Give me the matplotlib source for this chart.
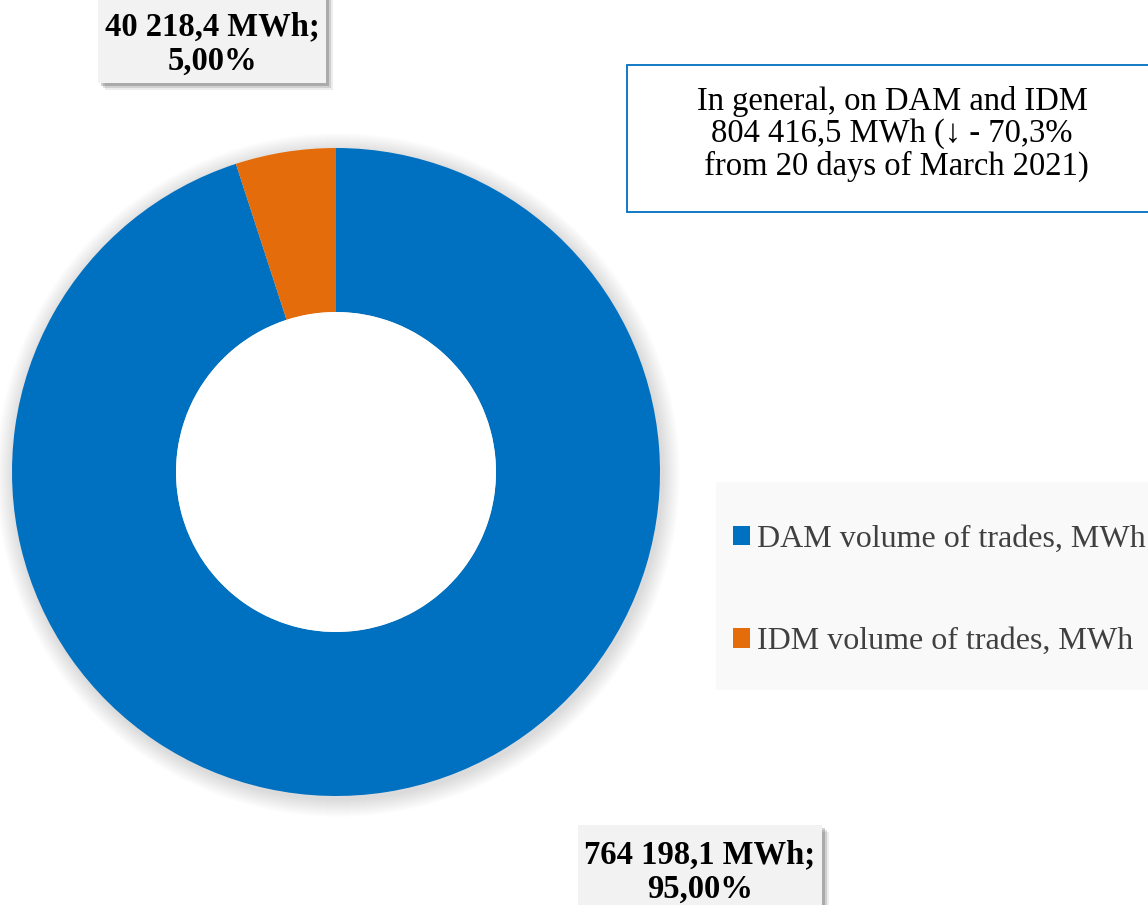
import matplotlib.pyplot as plt
from matplotlib.patches import Rectangle, Circle

plt.rcParams['font.family'] = ['Liberation Serif', 'DejaVu Serif']

# data
markets = ["DAM volume of trades, MWh", "IDM volume of trades, MWh"]
volumes = [764198.1, 40218.4]
colors = ["#0070c0", "#e46c0a"]
note = "In general, on DAM and IDM\n804 416,5 MWh (\u2193 - 70,3%\n from 20 days of March 2021)"

W, H = 1148, 905


def fmt(v):
    s = f"{v:,.1f}".replace(",", " ").replace(".", ",")
    return s


def py(y):
    # pixel row (from top) -> data y
    return H - y


fig = plt.figure(figsize=(W / 100, H / 100), dpi=100)
ax = fig.add_axes([0, 0, 1, 1])
ax.set_xlim(0, W)
ax.set_ylim(0, H)
ax.axis('off')

cx, cy, R = 336, 472, 324

# soft blurred shadow around the ring
for i in range(18):
    ax.add_patch(Circle((cx + 2, py(cy) - 3), R + 1 + i, color='#000000', alpha=0.006, lw=0, zorder=0))

wedges, _ = ax.pie(volumes, colors=colors, startangle=90, counterclock=False,
                   center=(cx, py(cy)), radius=R,
                   wedgeprops=dict(width=R - 160, linewidth=0))
ax.add_patch(Circle((cx, py(cy)), 160, color='white', lw=0, zorder=1))
ax.set_xlim(0, W)
ax.set_ylim(0, H)
ax.set_aspect('auto')

total = sum(volumes)


def value_box(x0, y0, x1, y1, ty, v):
    # shadow then grey box, pixel coords from top
    for i, a in enumerate([0.18, 0.12, 0.07]):
        off = 3 + i * 2
        ax.add_patch(Rectangle((x0 + off, py(y1) - off), x1 - x0, y1 - y0,
                               color='#000000', alpha=a, lw=0, zorder=3))
    ax.add_patch(Rectangle((x0, py(y1)), x1 - x0, y1 - y0, color='#f2f2f2', lw=0, zorder=4))
    ax.text((x0 + x1) / 2, py(ty), f"{fmt(v)} MWh;\n{v / total * 100:.2f}%".replace(".", ","),
            ha='center', va='center', fontsize=23.5, fontweight='bold', color='black',
            linespacing=1.13, zorder=5)


value_box(98, -10, 326, 83, 44, volumes[1])
value_box(578, 825, 822, 925, 872, volumes[0])

# note box
ax.add_patch(Rectangle((627, py(212)), 560, 212 - 65, facecolor='white',
                       edgecolor='#0070c0', lw=1.3, zorder=3))
ax.text(892, py(134), note, ha='center', va='center', fontsize=23.5,
        color='black', linespacing=1.05, zorder=5)

# legend
ax.add_patch(Rectangle((716, py(690)), 440, 690 - 482, color='#f9f9f9', lw=0, zorder=2))
leg = ax.legend(wedges, markets, loc='upper left', bbox_to_anchor=(720 / W, py(512) / H),
                frameon=False, fontsize=23, handlelength=0.55, handleheight=0.55,
                handletextpad=0.2, labelspacing=2.3, borderaxespad=0)
for t in leg.get_texts():
    t.set_color('#404040')

fig.savefig('out.png', dpi=100)
